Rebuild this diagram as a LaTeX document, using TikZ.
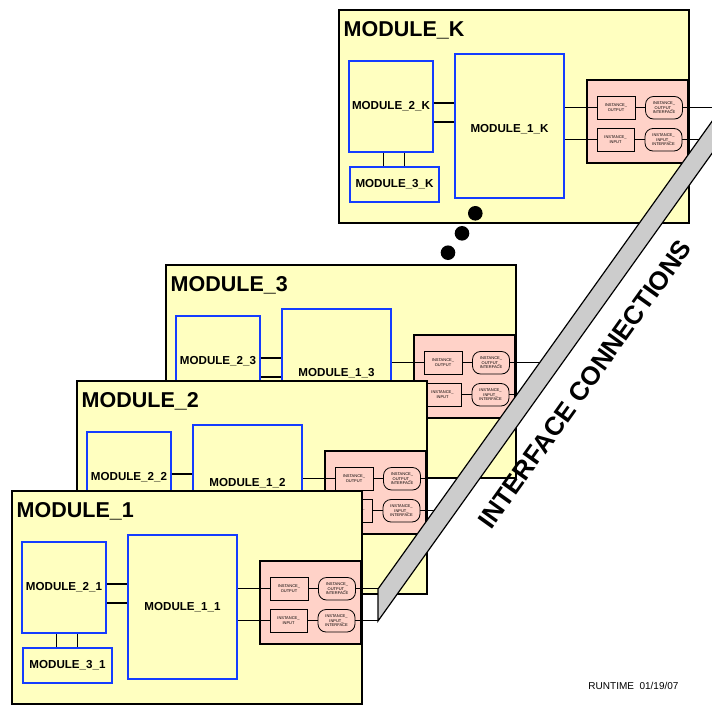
\documentclass[tikz,border=0pt]{standalone}
\usepackage{fontspec}
\setmainfont{Liberation Sans}
\usepackage{tikz}
\usetikzlibrary{calc,positioning}
\definecolor{ModYellow}{RGB}{255,255,192}
\definecolor{IfPink}{RGB}{255,210,200}
\definecolor{SubBlue}{RGB}{20,60,255}
\definecolor{BandGray}{RGB}{204,204,204}

\tikzset{
  modbox/.style={draw,line width=1.2pt,fill=ModYellow,minimum width=350pt,minimum height=213pt,inner sep=0pt},
  subbox/.style={draw=SubBlue,line width=1.6pt,fill=ModYellow,inner sep=0pt,font=\fontsize{11.6}{13}\selectfont\bfseries},
  pinkbox/.style={draw,line width=1.4pt,fill=IfPink,minimum width=101pt,minimum height=83pt,inner sep=0pt},
  instbox/.style={draw,line width=0.8pt,fill=IfPink,minimum width=38pt,minimum height=22.5pt,inner sep=0pt,align=center,font=\fontsize{4}{4.4}\selectfont},
  ifacebox/.style={instbox,rounded corners=8pt,minimum width=37pt},
  conn/.style={line width=1.4pt},
  dotmark/.style={circle,fill=black,inner sep=0pt,minimum size=14.6pt},
}

\begin{document}
\begin{tikzpicture}[x=1pt,y=-1pt]
\useasboundingbox (0,0) rectangle (712,704);
\clip (0,0) rectangle (712,704);

% modules, back to front
\foreach \ox/\oy/\tag/\ly in {339/10/K/119,166/265/3/108,77/381/2/102,12/491/1/116}{
  \pgfmathsetmacro{\xo}{max(378,378+(507.25-\oy)/1.4)-\ox}
  \pgfmathsetmacro{\xi}{max(378,378+(475.25-\oy)/1.4)-\ox}
  \begin{scope}[shift={(\ox,\oy)}]
    \node[modbox] (mod\tag) at (175,106.5) {};
    \node[anchor=base west,inner sep=0pt,font=\fontsize{21.5}{24}\selectfont\bfseries] (title\tag) at (4.5,26.5) {MODULE\_\tag};
    \node[subbox,minimum width=84pt,minimum height=91pt] (sub2\tag) at (52,96.5) {MODULE\_2\_\tag};
    \node[subbox,minimum width=89pt,minimum height=35pt] (sub3\tag) at (55.5,174.5) {MODULE\_3\_\tag};
    \node[subbox,minimum width=109pt,minimum height=144pt] (sub1\tag) at (170.5,116) {};
    \node[font=\fontsize{11.6}{13}\selectfont\bfseries] (lab1\tag) at (170.5,\ly) {MODULE\_1\_\tag};
    \node[pinkbox] (pink\tag) at (298.5,111.5) {};
    \node[instbox] (out\tag) at (277,97.75) {INSTANCE\_\\OUTPUT};
    \node[instbox,minimum width=37pt] (in\tag) at (276.5,129.75) {INSTANCE\_\\INPUT};
    \node[ifacebox] (oif\tag) at (325,97.75) {INSTANCE\_\\OUTPUT\_\\INTERFACE};
    \node[ifacebox] (iif\tag) at (324.5,129.75) {INSTANCE\_\\INPUT\_\\INTERFACE};
    \coordinate (oend\tag) at (\xo,97.75);
    \coordinate (iend\tag) at (\xi,129.75);
    % inner links
    \draw[conn] ([yshift=3.5pt]sub2\tag.east) -- ([yshift=3.5pt]sub2\tag.east -| sub1\tag.west);
    \draw[conn] ([yshift=-15.5pt]sub2\tag.east) -- ([yshift=-15.5pt]sub2\tag.east -| sub1\tag.west);
    \draw[conn] ([xshift=-7.5pt]sub2\tag.south) -- ([xshift=-7.5pt]sub2\tag.south |- sub3\tag.north);
    \draw[conn] ([xshift=13.5pt]sub2\tag.south) -- ([xshift=13.5pt]sub2\tag.south |- sub3\tag.north);
    \draw[conn] (sub1\tag.east |- out\tag.west) -- (out\tag.west);
    \draw[conn] (sub1\tag.east |- in\tag.west) -- (in\tag.west);
    \draw[conn] (out\tag.east) -- (oif\tag.west);
    \draw[conn] (in\tag.east) -- (iif\tag.west);
    \draw[conn] (oif\tag.east) -- (oend\tag);
    \draw[conn] (iif\tag.east) -- (iend\tag);
  \end{scope}
}

% dots between MODULE_K and MODULE_3
\node[dotmark] (dot1) at (475.3,213.3) {};
\node[dotmark] (dot2) at (462,233.3) {};
\node[dotmark] (dot3) at (448,252.7) {};

% interface band
\coordinate (bandtop) at (378,589);
\coordinate (bandbot) at (378,621);
\draw[line width=1.2pt,fill=BandGray] (bandtop) -- (bandbot) -- ++(420,-588) -- ++(0,-32) -- cycle;
\node[rotate=54.46,font=\fontsize{26}{30}\selectfont\bfseries] (ifcon) at (585,384) {INTERFACE CONNECTIONS};

\node[font=\fontsize{10}{12}\selectfont] (runtime) at (633.5,686) {RUNTIME~~01/19/07};
\end{tikzpicture}
\end{document}
